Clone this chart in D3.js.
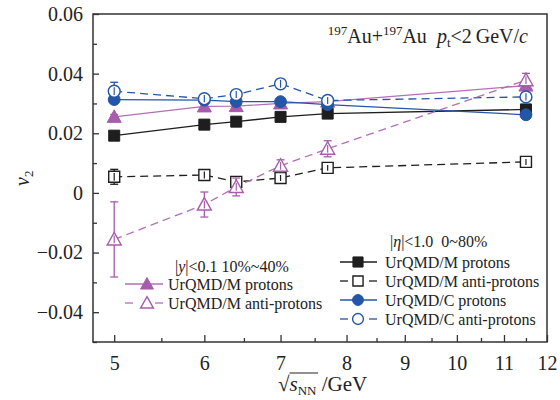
<!DOCTYPE html>
<html>
<head>
<meta charset="utf-8">
<script src="https://cdn.jsdelivr.net/npm/d3@7"></script>
<style>
  body { margin: 0; background: #fff; }
  svg { display: block; font-family: "Liberation Serif", "Times New Roman", serif; }
</style>
</head>
<body>
<svg></svg>
<script>
// sqrt(s_NN) in GeV
var energies = [5, 6, 6.4, 7, 7.7, 11.5];

// |eta|<1.0, 0-80%
var mProtons = [0.0192, 0.0229, 0.0239, 0.0255, 0.0266, 0.0280];
var mProtonsErr = [0.0008, 0.0008, 0.0008, 0.0008, 0.0008, 0.0008];
var mAntiProtons = [0.0054, 0.0060, 0.0037, 0.0050, 0.0084, 0.0104];
var mAntiProtonsErr = [0.0025, 0.0012, 0.0010, 0.0010, 0.0010, 0.0010];
var cProtons = [0.0313, 0.0311, 0.0306, 0.0306, 0.0296, 0.0262];
var cProtonsErr = [0.0008, 0.0008, 0.0008, 0.0008, 0.0008, 0.0008];
var cAntiProtons = [0.0341, 0.0316, 0.0330, 0.0366, 0.0310, 0.0322];
var cAntiProtonsErr = [0.0030, 0.0012, 0.0012, 0.0015, 0.0012, 0.0012];

// |y|<0.1, 10-40%
var yProtons = [0.0255, 0.0290, 0.0291, 0.0300, 0.0306, 0.0360];
var yProtonsErr = [0.0008, 0.0008, 0.0008, 0.0008, 0.0008, 0.0008];
var yAntiProtons = [-0.0156, -0.0039, 0.0020, 0.0091, 0.0148, 0.0378];
var yAntiProtonsErr = [0.0126, 0.0042, 0.0030, 0.0020, 0.0027, 0.0023];

var xMajorTicks = [5, 6, 7, 8, 9, 10, 11, 12];
var xMinorTicks = [5.5, 6.5, 7.5, 8.5, 9.5, 10.5, 11.5];
var yMajorTicks = [-0.04, -0.02, 0, 0.02, 0.04, 0.06];
var yMinorTicks = [-0.05, -0.03, -0.01, 0.01, 0.03, 0.05];

var black = '#1e1e1e';
var blue = '#2456a8';
var purple = '#a65dab';
var purpleLine = '#b36fb7';
var serif = '"Liberation Serif", "Times New Roman", serif';

var width = 560, height = 400;
var margin = {top: 14, right: 13, bottom: 58, left: 93};

var svg = d3.select('svg')
  .attr('width', width)
  .attr('height', height);

var x = d3.scaleLog()
  .domain([4.79, 12])
  .range([margin.left, width - margin.right]);

var y = d3.scaleLinear()
  .domain([-0.05, 0.06])
  .range([height - margin.bottom, margin.top]);

var series = [
  {values: mProtons, err: mProtonsErr, color: black, line: black, shape: 'square', filled: true, dashed: false},
  {values: mAntiProtons, err: mAntiProtonsErr, color: black, line: black, shape: 'square', filled: false, dashed: true},
  {values: yProtons, err: yProtonsErr, color: purple, line: purpleLine, shape: 'triangle', filled: true, dashed: false},
  {values: cProtons, err: cProtonsErr, color: blue, line: blue, shape: 'circle', filled: true, dashed: false},
  {values: cAntiProtons, err: cAntiProtonsErr, color: blue, line: blue, shape: 'circle', filled: false, dashed: true},
  {values: yAntiProtons, err: yAntiProtonsErr, color: purple, line: purpleLine, shape: 'triangle', filled: false, dashed: true}
];

function markerPath(shape, k) {
  k = k || 1;
  if (shape == 'square') return 'M' + (-5.5 * k) + ',' + (-5.5 * k) + 'h' + (11 * k) + 'v' + (11 * k) + 'h' + (-11 * k) + 'Z';
  if (shape == 'triangle') return 'M0,' + (-7 * k) + 'L' + (7 * k) + ',' + (5.5 * k) + 'H' + (-7 * k) + 'Z';
  return d3.symbol(d3.symbolCircle, 110 * k * k)();
}

function drawMarker(g, s, cx, cy, k) {
  g.append('path')
    .attr('d', markerPath(s.shape, k))
    .attr('transform', 'translate(' + cx + ',' + cy + ')')
    .attr('fill', s.filled ? s.color : '#fff')
    .attr('stroke', s.color)
    .attr('stroke-width', s.filled ? 1 : 1.4);
}

// axes: ticks pointing inwards
var xAxisMajor = d3.axisBottom(x).tickValues(xMajorTicks)
  .tickSizeInner(-7).tickSizeOuter(0).tickPadding(14)
  .tickFormat(d3.format('d'));
var xAxisMinor = d3.axisBottom(x).tickValues(xMinorTicks)
  .tickSizeInner(-4).tickSizeOuter(0).tickFormat('');
var yAxisMajor = d3.axisLeft(y).tickValues(yMajorTicks)
  .tickSizeInner(-6).tickSizeOuter(0).tickPadding(10)
  .tickFormat(function(d) { return d == 0 ? '0' : d3.format('.2f')(d).replace('-', '\u2212'); });
var yAxisMinor = d3.axisLeft(y).tickValues(yMinorTicks)
  .tickSizeInner(-4).tickSizeOuter(0).tickFormat('');

function styleAxis(g) {
  g.attr('font-family', serif).attr('font-size', 20);
  g.select('.domain').remove();
  g.selectAll('line').attr('stroke', '#333').attr('stroke-width', 1.3);
  g.selectAll('text')
    .attr('fill', '#222')
    .style('font-family', serif)
    .style('font-size', '20px');
}

svg.append('g').attr('transform', 'translate(0,' + (height - margin.bottom) + ')').call(xAxisMajor).call(styleAxis);
svg.append('g').attr('transform', 'translate(0,' + (height - margin.bottom) + ')').call(xAxisMinor).call(styleAxis);
svg.append('g').attr('transform', 'translate(' + margin.left + ',0)').call(yAxisMajor).call(styleAxis);
svg.append('g').attr('transform', 'translate(' + margin.left + ',0)').call(yAxisMinor).call(styleAxis);

svg.append('rect')
  .attr('x', margin.left)
  .attr('y', margin.top)
  .attr('width', width - margin.left - margin.right)
  .attr('height', height - margin.top - margin.bottom)
  .attr('fill', 'none')
  .attr('stroke', '#333')
  .attr('stroke-width', 1.5);

// lines
var line = d3.line()
  .x(function(d, i) { return x(energies[i]); })
  .y(function(d) { return y(d); });

var plot = svg.append('g');

series.forEach(function(s) {
  plot.append('path')
    .attr('d', line(s.values))
    .attr('fill', 'none')
    .attr('stroke', s.line)
    .attr('stroke-width', 1.3)
    .attr('stroke-dasharray', s.dashed ? '8,5' : null);
});

// error bars and markers
series.forEach(function(s) {
  var g = plot.append('g');
  s.values.forEach(function(v, i) {
    var cx = x(energies[i]);
    var y0 = y(v - s.err[i]), y1 = y(v + s.err[i]);
    g.append('line').attr('x1', cx).attr('x2', cx).attr('y1', y0).attr('y2', y1)
      .attr('stroke', s.color).attr('stroke-width', 1.3);
    [y0, y1].forEach(function(yy) {
      g.append('line').attr('x1', cx - 4).attr('x2', cx + 4).attr('y1', yy).attr('y2', yy)
        .attr('stroke', s.color).attr('stroke-width', 1.3);
    });
    drawMarker(g, s, cx, y(v));
    if (!s.filled) {
      // the inner part of the error bar shows through open markers
      var half = Math.min(s.err[i], 0.0013);
      g.append('line').attr('x1', cx).attr('x2', cx)
        .attr('y1', y(v - half)).attr('y2', y(v + half))
        .attr('stroke', s.color).attr('stroke-width', 1.2);
    }
  });
});

// legends
function legendEntry(s, lx, ly, label, x0, x1, tx) {
  var g = svg.append('g');
  if (s.dashed) {
    g.append('line').attr('x1', x0).attr('x2', x0 + 8).attr('y1', ly).attr('y2', ly)
      .attr('stroke', s.line).attr('stroke-width', 1.3);
    g.append('line').attr('x1', x1 - 8).attr('x2', x1).attr('y1', ly).attr('y2', ly)
      .attr('stroke', s.line).attr('stroke-width', 1.3);
  } else {
    g.append('line').attr('x1', x0).attr('x2', x1).attr('y1', ly).attr('y2', ly)
      .attr('stroke', s.line).attr('stroke-width', 1.3);
  }
  drawMarker(g, s, lx, ly, 0.92);
  g.append('text').attr('x', tx).attr('y', ly + 6)
    .style('font-size', '16px').attr('fill', '#222').text(label);
}

var leftTitle = svg.append('text').attr('x', 175).attr('y', 272)
  .style('font-size', '16px').attr('fill', '#222');
leftTitle.append('tspan').text('|');
leftTitle.append('tspan').style('font-style', 'italic').text('y');
leftTitle.append('tspan').text('|<0.1 10%~40%');

legendEntry(series[2], 147, 284, 'UrQMD/M protons', 125, 163, 168);
legendEntry(series[5], 147, 303, 'UrQMD/M anti-protons', 125, 163, 168);

var rightTitle = svg.append('text').attr('x', 390).attr('y', 247)
  .style('font-size', '16px').attr('fill', '#222');
rightTitle.append('tspan').text('|');
rightTitle.append('tspan').style('font-style', 'italic').text('\u03b7');
rightTitle.append('tspan').text('|<1.0\u00a0\u00a00~80%');

legendEntry(series[0], 358, 262, 'UrQMD/M protons', 340, 377, 385);
legendEntry(series[1], 358, 281, 'UrQMD/M anti-protons', 340, 377, 385);
legendEntry(series[3], 358, 300, 'UrQMD/C protons', 340, 377, 385);
legendEntry(series[4], 358, 319, 'UrQMD/C anti-protons', 340, 377, 385);

// system annotation
var ann = svg.append('text').attr('x', 528).attr('y', 43)
  .attr('text-anchor', 'end').style('font-size', '20px').attr('fill', '#222');
ann.append('tspan').style('font-size', '13px').attr('dy', -8).text('197');
ann.append('tspan').attr('dy', 8).text('Au+');
ann.append('tspan').style('font-size', '13px').attr('dy', -8).text('197');
ann.append('tspan').attr('dy', 8).text('Au\u00a0\u00a0');
ann.append('tspan').style('font-style', 'italic').text('p');
ann.append('tspan').style('font-size', '13px').attr('dy', 4).text('t');
ann.append('tspan').attr('dy', -4).text('<2\u2009GeV/');
ann.append('tspan').style('font-style', 'italic').text('c');

// y label
var yl = svg.append('text')
  .attr('transform', 'translate(29,186) rotate(-90)')
  .style('font-size', '20px').attr('fill', '#222');
yl.append('tspan').style('font-style', 'italic').text('v');
yl.append('tspan').style('font-size', '13px').attr('dy', 4).text('2');

// x label
var xl = svg.append('text').attr('x', 278).attr('y', 391)
  .style('font-size', '21px').attr('fill', '#222');
xl.append('tspan').text('\u221a');
var sPart = xl.append('tspan').style('font-style', 'italic').text('s');
var nnPart = xl.append('tspan').style('font-size', '13px').attr('dy', 4).text('NN');
xl.append('tspan').attr('dy', -4).text('\u00a0/GeV');

var b1 = sPart.node().getBBox();
var b2 = nnPart.node().getBBox();
svg.append('line')
  .attr('x1', b1.x).attr('x2', b2.x + b2.width + 1)
  .attr('y1', 373).attr('y2', 373)
  .attr('stroke', '#222').attr('stroke-width', 1);
</script>
</body>
</html>
